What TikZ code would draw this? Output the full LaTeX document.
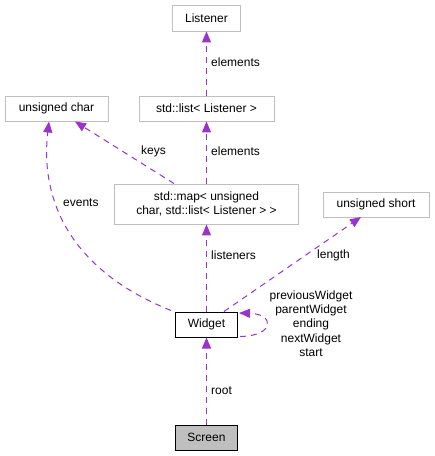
\documentclass[tikz,border=0pt]{standalone}
\usepackage{fontspec}
\setmainfont{Liberation Sans}
\usetikzlibrary{arrows.meta}
\definecolor{edgec}{HTML}{9A32CD}
\definecolor{boxg}{HTML}{BFBFBF}
\tikzset{
  cls/.style={draw=boxg, line width=0.9pt, fill=white, inner sep=0pt, font=\fontsize{12}{14}\selectfont},
  main/.style={draw=black, line width=1pt, inner sep=0pt, font=\fontsize{12}{14}\selectfont},
  rel/.style={color=edgec, dashed, dash pattern=on 6pt off 5pt, line width=1pt, -{Triangle[length=11pt,width=9pt]}},
  lbl/.style={font=\fontsize{12}{14}\selectfont, inner sep=0pt, text=black},
}
\begin{document}
\begin{tikzpicture}[x=1pt,y=-1pt]
\useasboundingbox (0,0) rectangle (435,456);
\node[cls, minimum width=68pt, minimum height=26pt] (listener) at (206.5,18) {Listener};
\node[cls, minimum width=103pt, minimum height=25pt] (uchar) at (56.5,108.5) {unsigned char};
\node[cls, minimum width=135pt, minimum height=25pt] (list) at (206.5,108.5) {std::list< Listener >};
\node[cls, minimum width=184pt, minimum height=40pt, align=center] (map) at (206.5,204) {std::map< unsigned\\ char, std::list< Listener > >};
\node[cls, minimum width=106pt, minimum height=25pt] (ushort) at (376,204.5) {unsigned short};
\node[main, fill=white, minimum width=62pt, minimum height=25pt] (widget) at (206.5,324.5) {Widget};
\node[main, fill=boxg, minimum width=62pt, minimum height=25pt] (screen) at (206.5,437.5) {Screen};

\draw[rel] (list.north) -- (listener.south);
\draw[rel] (map.north) -- (list.south);
\draw[rel] (map.north west) ++(60,0) coordinate (mk) -- (75,121.5);
\draw[rel] (widget.north west) ++(-4,-1) coordinate (ev) .. controls (70,270) and (40,200) .. (49,121.5);
\draw[rel] (widget.north) -- (map.south);
\draw[rel] (widget.north east) ++(-14,0) coordinate (ln) -- (361,217);
\draw[rel] (widget.south east) ++(2,-1) coordinate (sl) .. controls (275,336) and (275,314) .. (239,313);
\draw[rel] (screen.north) -- (widget.south);

\node[lbl, anchor=west] (l1) at (211,62) {elements};
\node[lbl, anchor=west] (l2) at (211,151) {elements};
\node[lbl, anchor=west] (l3) at (141,151) {keys};
\node[lbl, anchor=west] (l4) at (63,203) {events};
\node[lbl, anchor=west] (l5) at (211,255) {listeners};
\node[lbl, anchor=west] (l6) at (317,255) {length};
\node[lbl, anchor=west] (l7) at (211,391) {root};
\node[lbl, align=center, font=\fontsize{12}{14.3}\selectfont] (l8) at (311,323.5) {previousWidget\\parentWidget\\ending\\nextWidget\\start};
\end{tikzpicture}
\end{document}
